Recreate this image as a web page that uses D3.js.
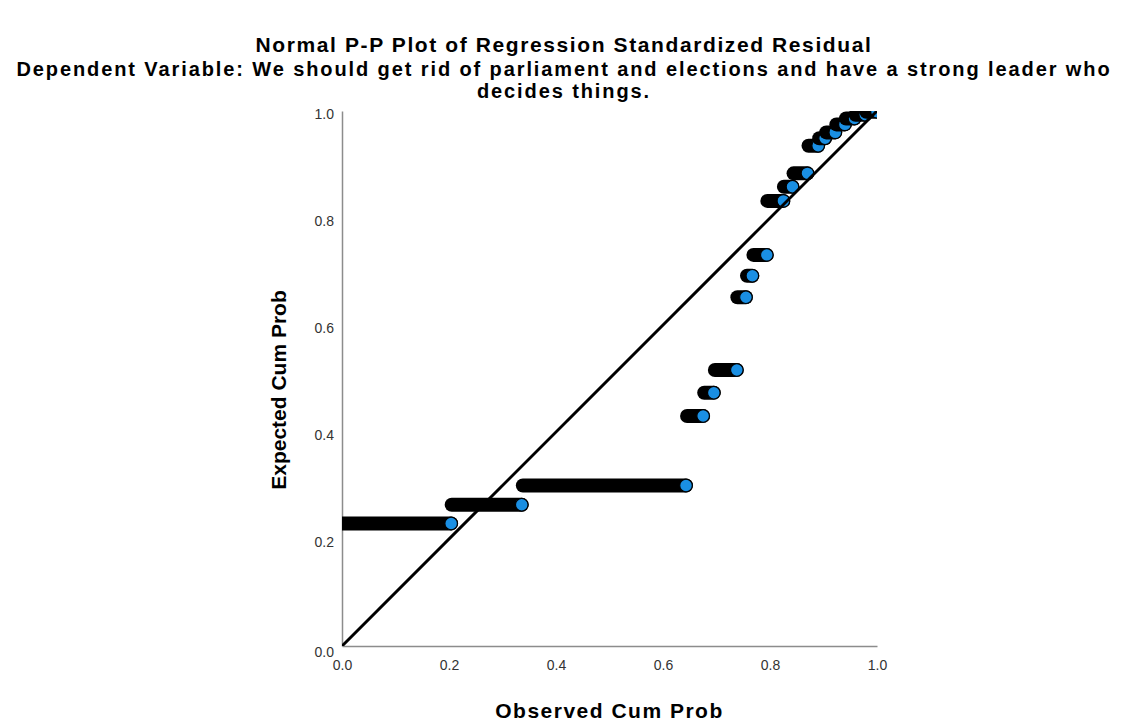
<!DOCTYPE html>
<html>
<head>
<meta charset="utf-8">
<script src="https://cdn.jsdelivr.net/npm/d3@7"></script>
<style>
  body { margin: 0; background: #fff; }
  text { font-family: "Liberation Sans", Arial, sans-serif; }
</style>
</head>
<body>
<div id="area"></div>
<script>
const title = "Normal P-P Plot of Regression Standardized Residual";
const subtitle = [
  "Dependent Variable: We should get rid of parliament and elections and have a strong leader who",
  "decides things.",
];
const xLabel = "Observed Cum Prob";
const yLabel = "Expected Cum Prob";
const tickValues = [0, 0.2, 0.4, 0.6, 0.8, 1.0];

// each run = tied residuals: one expected level, observed from first to last point
const runLevel = [0.229, 0.264, 0.300, 0.430, 0.4735, 0.516, 0.652, 0.692, 0.731,
  0.832, 0.8585, 0.8835, 0.935, 0.949, 0.960, 0.975, 0.986, 0.993, 0.9987];
const runStart = [0.0, 0.205, 0.338, 0.645, 0.677, 0.697, 0.739, 0.757, 0.769,
  0.795, 0.826, 0.844, 0.872, 0.892, 0.905, 0.924, 0.942, 0.960, 0.980];
const runEnd = [0.204, 0.336, 0.643, 0.675, 0.695, 0.738, 0.755, 0.767, 0.794,
  0.825, 0.842, 0.870, 0.890, 0.903, 0.922, 0.940, 0.958, 0.978, 1.0];

const width = 1128;
const height = 726;
const margin = { top: 111, left: 342 };
const side = 535;

const runs = runLevel.map((v, i) => ({ level: v, start: runStart[i], end: runEnd[i] }));

const x = d3.scaleLinear().domain([0, 1]).range([margin.left, margin.left + side]);
const y = d3.scaleLinear().domain([0, 1]).range([margin.top + side, margin.top]);

const svg = d3
  .select("#area")
  .append("svg")
  .attr("width", width)
  .attr("height", height);

svg.append("rect").attr("width", width).attr("height", height).attr("fill", "#fff");

// Titles
svg
  .append("text")
  .attr("x", width / 2)
  .attr("y", 52)
  .attr("text-anchor", "middle")
  .attr("font-size", 21)
  .attr("font-weight", "bold")
  .attr("letter-spacing", 1.6)
  .text(title);

svg
  .selectAll(".subtitle")
  .data(subtitle)
  .join("text")
  .attr("class", "subtitle")
  .attr("x", width / 2)
  .attr("y", (d, i) => 76 + i * 22)
  .attr("text-anchor", "middle")
  .attr("font-size", 20)
  .attr("font-weight", "bold")
  .attr("letter-spacing", 1.9)
  .text((d) => d);

svg
  .append("defs")
  .append("clipPath")
  .attr("id", "plot-clip")
  .append("rect")
  .attr("x", x(0))
  .attr("y", y(1))
  .attr("width", x(1) - x(0))
  .attr("height", y(0) - y(1));

// Axes
const xAxis = svg
  .append("g")
  .attr("transform", `translate(0, ${y(0)})`)
  .call(d3.axisBottom(x).tickValues(tickValues).tickFormat(d3.format(".1f")).tickSize(0).tickPadding(14));

const yAxis = svg
  .append("g")
  .attr("transform", `translate(${x(0)}, 0)`)
  .call(d3.axisLeft(y).tickValues(tickValues).tickFormat(d3.format(".1f")).tickSize(0).tickPadding(8));

[xAxis, yAxis].forEach((g) => {
  g.select(".domain").attr("stroke", "#8c8c8c").attr("stroke-width", 1.5);
  g.selectAll("text")
    .attr("font-family", "Liberation Sans, Arial, sans-serif")
    .attr("font-size", 14)
    .attr("fill", "#333");
});
yAxis.selectAll("text").attr("dy", (d) => (d === 0 ? "0.72em" : "0.52em"));

svg
  .append("text")
  .attr("x", (x(0) + x(1)) / 2)
  .attr("y", 718)
  .attr("text-anchor", "middle")
  .attr("font-size", 21)
  .attr("font-weight", "bold")
  .attr("letter-spacing", 1.5)
  .text(xLabel);

svg
  .append("text")
  .attr("transform", `translate(286, 390) rotate(-90)`)
  .attr("text-anchor", "middle")
  .attr("font-size", 21)
  .attr("font-weight", "bold")
  .text(yLabel);

const plot = svg.append("g").attr("clip-path", "url(#plot-clip)");

// Runs of overlapping points, drawn in order so a later run covers the previous one
const run = plot
  .selectAll(".run")
  .data(runs)
  .join("g")
  .attr("class", "run");

run
  .append("line")
  .attr("x1", (d) => x(d.start))
  .attr("x2", (d) => x(d.end))
  .attr("y1", (d) => y(d.level))
  .attr("y2", (d) => y(d.level))
  .attr("stroke", "#000")
  .attr("stroke-width", 14)
  .attr("stroke-linecap", "round");

// Last point of each run stays visible
run
  .append("circle")
  .attr("cx", (d) => x(d.end))
  .attr("cy", (d) => y(d.level))
  .attr("r", 6.3)
  .attr("fill", "#1a8fe3")
  .attr("stroke", "#000")
  .attr("stroke-width", 1.2);

// Reference line
plot
  .append("line")
  .attr("x1", x(0))
  .attr("y1", y(0))
  .attr("x2", x(1))
  .attr("y2", y(1))
  .attr("stroke", "#000")
  .attr("stroke-width", 3);
</script>
</body>
</html>
